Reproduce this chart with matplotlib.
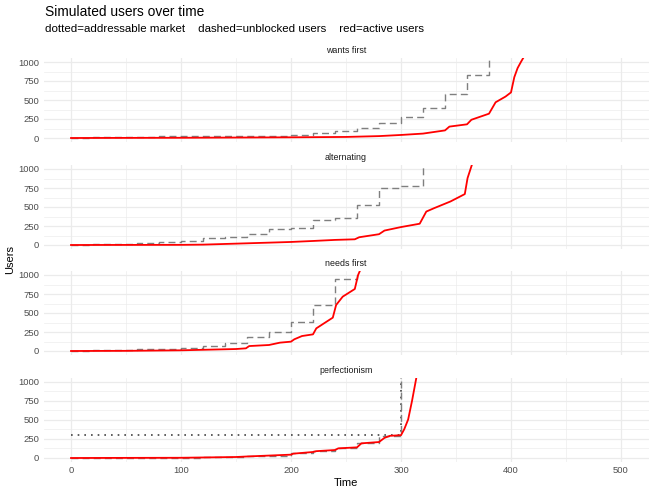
import matplotlib
matplotlib.use("Agg")
from matplotlib import pyplot as plt

plt.rcParams['font.family'] = ['Liberation Sans', 'DejaVu Sans']

# facet names, top to bottom
facets = ['wants first', 'alternating', 'needs first', 'perfectionism']

# unblocked users (dashed step line), changes every 20 time units
wants_steps_t = [0, 20, 40, 60, 80, 100, 120, 140, 160, 180, 200, 220, 240, 260, 280, 300, 320, 340, 360, 380]
wants_steps_v = [0, 14, 17, 19, 21, 22, 24, 25, 27, 29, 40, 65, 95, 133, 200, 275, 400, 585, 830, 1300]
alt_steps_t = [0, 20, 40, 60, 80, 100, 120, 140, 160, 180, 200, 220, 240, 260, 280, 300, 320]
alt_steps_v = [0, 14, 18, 26, 38, 58, 89, 107, 151, 213, 227, 329, 351, 524, 747, 782, 1300]
needs_steps_t = [0, 20, 40, 60, 80, 100, 120, 140, 160, 180, 200, 220, 240, 260]
needs_steps_v = [0, 12, 15, 20, 28, 42, 70, 101, 180, 254, 386, 605, 947, 1300]
perf_steps_t = [0, 20, 40, 60, 80, 100, 120, 140, 160, 180, 200, 220, 240, 260, 280, 300]
perf_steps_v = [0, 2, 3, 4, 5, 6, 8, 12, 20, 30, 60, 92, 130, 200, 290, 1300]

# addressable market (dotted), only on screen for perfectionism
perf_market_t = [0, 300]
perf_market_v = [300, 1300]

# active users (red)
wants_t = [0, 100, 200, 250, 280, 300, 320, 340, 344, 360, 364, 370, 380, 386, 395, 400, 403, 406, 409, 413]
wants_v = [0, 3, 9, 14, 25, 40, 58, 100, 150, 180, 240, 270, 320, 470, 545, 600, 800, 920, 1000, 1100]
alt_t = [0, 100, 120, 150, 180, 200, 220, 240, 258, 262, 280, 285, 300, 317, 323, 330, 345, 358, 360.5, 365]
alt_v = [0, 2, 5, 18, 31, 40, 53, 67, 75, 102, 142, 190, 236, 280, 440, 484, 573, 670, 880, 1080]
needs_t = [0, 50, 100, 150, 159, 162, 180, 190, 200, 203, 210, 220, 223, 230, 238, 241, 247, 258, 261, 264]
needs_v = [0, 2, 9, 26, 35, 65, 79, 110, 123, 154, 197, 219, 298, 364, 439, 605, 715, 816, 1000, 1100]
perf_t = [0, 100, 150, 160, 200, 202, 220, 223, 240, 243, 260, 264, 280, 285, 290, 300, 303, 306.5, 310, 314]
perf_v = [0, 3, 13, 20, 44, 57, 79, 90, 105, 127, 140, 193, 210, 265, 292, 300, 380, 507, 750, 1060]

steps = [(wants_steps_t, wants_steps_v), (alt_steps_t, alt_steps_v),
         (needs_steps_t, needs_steps_v), (perf_steps_t, perf_steps_v)]
active = [(wants_t, wants_v), (alt_t, alt_v), (needs_t, needs_v), (perf_t, perf_v)]
market = [None, None, None, (perf_market_t, perf_market_v)]

W, H = 652, 495
fig = plt.figure(figsize=(W / 100, H / 100), dpi=100)

left, right = 43.5, 648.5
tops = [58.2, 165.2, 271.2, 378.2]
ph = 83.6

grid_col = '#EBEBEB'
for i, name in enumerate(facets):
    ax = fig.add_axes([left / W, 1 - (tops[i] + ph) / H, (right - left) / W, ph / H])
    ax.set_xlim(-25, 525)
    ax.set_ylim(-50, 1050)
    for s in ax.spines.values():
        s.set_visible(False)
    ax.set_xticks([0, 100, 200, 300, 400, 500])
    ax.set_xticks([50, 150, 250, 350, 450], minor=True)
    ax.set_yticks([0, 250, 500, 750, 1000])
    ax.set_yticks([125, 375, 625, 875], minor=True)
    ax.grid(True, which='major', color=grid_col, lw=0.9)
    ax.grid(True, which='minor', color=grid_col, lw=0.45)
    ax.set_axisbelow(True)
    ax.tick_params(which='both', length=0, labelsize=6.8, labelcolor='#4D4D4D', pad=3)
    if i < 3:
        ax.tick_params(axis='x', labelbottom=False)

    if market[i] is not None:
        ax.plot(market[i][0], market[i][1], drawstyle='steps-post', color='#444444',
                lw=1.2, linestyle=(0, (1, 3)))
    ax.plot(steps[i][0], steps[i][1], drawstyle='steps-post', color='#7F7F7F',
            lw=1.0, linestyle=(0, (5, 3)))
    ax.plot(active[i][0], active[i][1], color='red', lw=1.3)

    ax.text(0.5, 1 + 7.5 / ph, name, transform=ax.transAxes, ha='center', va='center',
            fontsize=6.4, color='#1A1A1A')
    if i == 3:
        ax.set_xlabel('Time', fontsize=8, color='black', labelpad=2)

fig.text(10 / W, 1 - 260 / H, 'Users', rotation=90, ha='center', va='center', fontsize=8)
fig.text(45 / W, 1 - 12 / H, 'Simulated users over time', ha='left', va='center', fontsize=9.9)
fig.text(45 / W, 1 - 29.5 / H, 'dotted=addressable market    dashed=unblocked users    red=active users',
         ha='left', va='center', fontsize=8.25)

fig.savefig('out.png', dpi=100)
